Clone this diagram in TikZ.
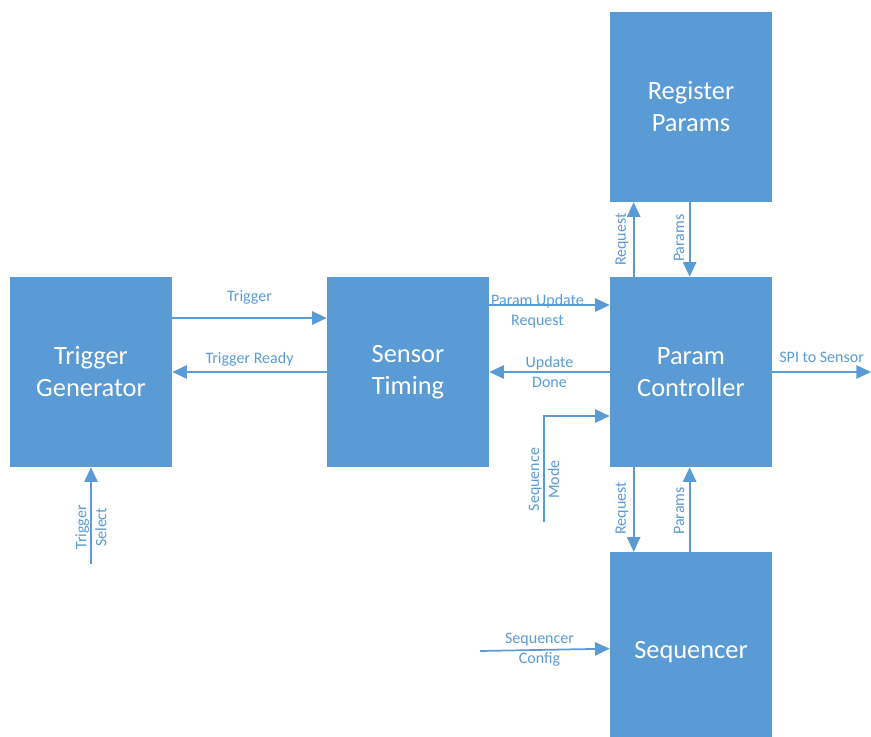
\documentclass[tikz,border=0pt]{standalone}
\usepackage{fontspec}
\setmainfont{Carlito}
\usetikzlibrary{arrows.meta}
\definecolor{boxblue}{HTML}{5B9BD5}

\begin{document}
\begin{tikzpicture}[x=0.75pt, y=-0.75pt, >={Triangle[length=11pt, width=10pt]},
  block/.style={fill=boxblue, text=white, align=center, inner sep=0pt,
    minimum width=121.5pt, minimum height=142.5pt, font=\fontsize{19.8}{24}\selectfont},
  wire/.style={draw=boxblue, line width=1.3pt},
  lbl/.style={text=boxblue, align=center, font=\fontsize{12}{15}\selectfont}]
\useasboundingbox (0,0) rectangle (871,736);
\draw (91,372) node[block] (tg) {Trigger\\Generator};
\path[wire, <-] (tg.south) -- node[lbl, pos=0.62, rotate=90] {Trigger\\Select} ++(0,97);
%% Sensor Timing
\draw (tg) ++ (317,0) node[block] (st) {Sensor\\Timing};
\path[wire, ->] ([yshift=40.5pt]tg.east) -- node[lbl, above=6pt] {Trigger} ([yshift=40.5pt]st.west);
\path[wire, ->] (st.west) -- node[lbl, above=0pt] {Trigger Ready} (tg.east);
%% Param Controller
\draw (st) ++ (283,0) node[block] (pc) {Param\\Controller};
\path[wire, ->] ([yshift=50.25pt]st.east) -- node[lbl, xshift=-9pt, yshift=-5pt] {Param Update\\Request} ([yshift=50.25pt]pc.west);
\path[wire, ->] (pc.west) -- node[lbl] {Update\\Done} (st.east);
\coordinate (seqm) at (544,522);
\path[wire, ->] (seqm) |- node[lbl, pos=0.2, rotate=90] {Sequence\\Mode} ([yshift=-33pt]pc.west);
\coordinate (spi) at (871,372);
\path[wire, ->] (pc.east) -- node[lbl, above=3pt] {SPI to Sensor} (spi);

%%%%%%%%%%%%%%%%%%%%%% Register Params

\draw (pc) ++ (0,-265) node[block] (rp) {Register\\Params};
\path[wire, ->] ([xshift=-43pt]pc.north) -- node[lbl, above=0pt, rotate=90] {Request} ([xshift=-43pt]rp.south);
\path[wire, ->] ([xshift=-1pt]rp.south) -- node[lbl, above=1pt, rotate=90] {Params} ([xshift=-1pt]pc.north);

%%%%%%%%%%%%%%%%%%%%%% Sequencer

\draw (pc) ++ (0,280) node[block, minimum height=150pt] (seq) {Sequencer};
\path[wire, ->] ([xshift=-43pt]pc.south) -- node[lbl, above=1pt, rotate=90] {Request} ([xshift=-43pt]seq.north);
\path[wire, ->] ([xshift=-1pt]seq.north) -- node[lbl, above=-1pt, rotate=90] {Params} ([xshift=-1pt]pc.south);
\coordinate (scfg) at (480,651);
\path[wire, ->] (scfg) -- node[lbl, xshift=-4pt] {Sequencer\\Config} ([yshift=2.5pt]seq.west);
\end{tikzpicture}
\end{document}
